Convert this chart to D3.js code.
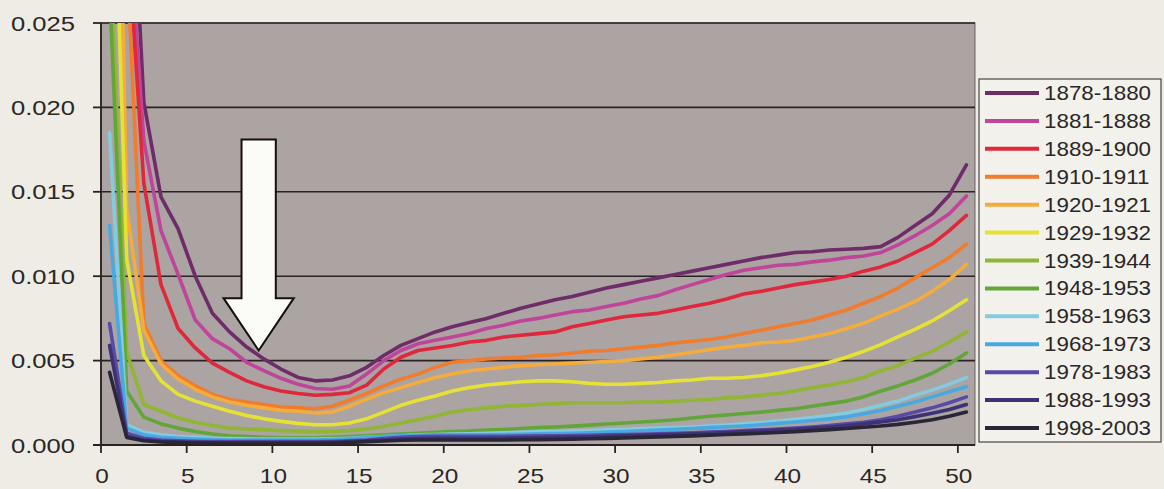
<!DOCTYPE html>
<html>
<head>
<meta charset="utf-8">
<script src="https://cdn.jsdelivr.net/npm/d3@7"></script>
<style>
  html, body { margin: 0; padding: 0; background: #efece5; }
  svg { display: block; }
  text { font-family: "Liberation Sans", Arial, sans-serif; fill: #2b2727; }
</style>
</head>
<body>
<svg id="chart" width="1164" height="489"></svg>
<script>
// Age in completed years (x categories)
const ages = d3.range(0, 51);

// Death probabilities by age, one array per observation period
const p1878_1880 = [0.150, 0.040, 0.0203, 0.0147, 0.0128, 0.0100, 0.0078, 0.0067, 0.0058, 0.0051, 0.0045, 0.0040, 0.0038, 0.00385, 0.0041, 0.0046, 0.0053, 0.0059, 0.0063, 0.0067, 0.0070, 0.00725, 0.0075, 0.0078, 0.0081, 0.00835, 0.0086, 0.0088, 0.00905, 0.0093, 0.0095, 0.0097, 0.0099, 0.0101, 0.0103, 0.0105, 0.0107, 0.0109, 0.0111, 0.01125, 0.0114, 0.01145, 0.01155, 0.0116, 0.01165, 0.01175, 0.0123, 0.0130, 0.0137, 0.0148, 0.0166];
const p1881_1888 = [0.120, 0.033, 0.0180, 0.0127, 0.0101, 0.0074, 0.0063, 0.0057, 0.0049, 0.0044, 0.00395, 0.0036, 0.00335, 0.0033, 0.0035, 0.0042, 0.0050, 0.0056, 0.0060, 0.0062, 0.0064, 0.0066, 0.0069, 0.0071, 0.00735, 0.0075, 0.0077, 0.0079, 0.0080, 0.0082, 0.0084, 0.00865, 0.00885, 0.0092, 0.0095, 0.0098, 0.0101, 0.01035, 0.0105, 0.01065, 0.0107, 0.01085, 0.01095, 0.0111, 0.0112, 0.0114, 0.01185, 0.0124, 0.0130, 0.0137, 0.01475];
const p1889_1900 = [0.100, 0.031, 0.0155, 0.0095, 0.0069, 0.00575, 0.00485, 0.0043, 0.0038, 0.00345, 0.0032, 0.00305, 0.00295, 0.0030, 0.0031, 0.00355, 0.0045, 0.0052, 0.0056, 0.00575, 0.0059, 0.0061, 0.0062, 0.0064, 0.0065, 0.0066, 0.0067, 0.0070, 0.0072, 0.0074, 0.0076, 0.0077, 0.0078, 0.0080, 0.0082, 0.0084, 0.00865, 0.00895, 0.0091, 0.0093, 0.0095, 0.00965, 0.0098, 0.0100, 0.0103, 0.01055, 0.0109, 0.0114, 0.0119, 0.0127, 0.0136];
const p1910_1911 = [0.080, 0.029, 0.0072, 0.0050, 0.0041, 0.0035, 0.0030, 0.0027, 0.00255, 0.0024, 0.00225, 0.0022, 0.00215, 0.0023, 0.00265, 0.00305, 0.0035, 0.0039, 0.0042, 0.0046, 0.0049, 0.0050, 0.0051, 0.00515, 0.0052, 0.0053, 0.00535, 0.00545, 0.00555, 0.0056, 0.0057, 0.0058, 0.0059, 0.00605, 0.00615, 0.00625, 0.0064, 0.0066, 0.0068, 0.0070, 0.0072, 0.0074, 0.0077, 0.0080, 0.0084, 0.0088, 0.0093, 0.0099, 0.0105, 0.0111, 0.0119];
const p1920_1921 = [0.064, 0.014, 0.0068, 0.0048, 0.0039, 0.0033, 0.00285, 0.00255, 0.00235, 0.0022, 0.00205, 0.0020, 0.0019, 0.00195, 0.0023, 0.0027, 0.0031, 0.0034, 0.0037, 0.0040, 0.0042, 0.0044, 0.0045, 0.0046, 0.0047, 0.00475, 0.0048, 0.00485, 0.0049, 0.00495, 0.0050, 0.0051, 0.0052, 0.00535, 0.0055, 0.00565, 0.0058, 0.0059, 0.00605, 0.0061, 0.0062, 0.0064, 0.0066, 0.0069, 0.0072, 0.00765, 0.00805, 0.0085, 0.0091, 0.0098, 0.0107];
const p1929_1932 = [0.043, 0.011, 0.0053, 0.0038, 0.0030, 0.0026, 0.0023, 0.0020, 0.00175, 0.00155, 0.0014, 0.00128, 0.0012, 0.0012, 0.0013, 0.00155, 0.00195, 0.00235, 0.00265, 0.0029, 0.0032, 0.0034, 0.00355, 0.00365, 0.00375, 0.0038, 0.0038, 0.00375, 0.00365, 0.0036, 0.0036, 0.00365, 0.0037, 0.0038, 0.00385, 0.00395, 0.00395, 0.0040, 0.0041, 0.00425, 0.00445, 0.00465, 0.0049, 0.0052, 0.00555, 0.00595, 0.0064, 0.00685, 0.00735, 0.00795, 0.0086];
const p1939_1944 = [0.030, 0.0055, 0.0024, 0.0020, 0.0016, 0.00135, 0.00115, 0.0010, 0.00095, 0.0009, 0.00085, 0.00082, 0.0008, 0.0008, 0.00085, 0.00095, 0.0011, 0.0013, 0.0015, 0.0017, 0.00195, 0.0021, 0.0022, 0.0023, 0.00235, 0.0024, 0.00245, 0.0025, 0.0025, 0.0025, 0.0025, 0.00255, 0.00255, 0.0026, 0.00265, 0.0027, 0.0028, 0.00285, 0.00295, 0.00305, 0.0032, 0.0034, 0.00355, 0.00375, 0.0040, 0.0044, 0.0047, 0.00515, 0.00555, 0.0061, 0.0067];
const p1948_1953 = [0.027, 0.0032, 0.00165, 0.00125, 0.0010, 0.0008, 0.00065, 0.00055, 0.0005, 0.00045, 0.00042, 0.00042, 0.00042, 0.00045, 0.0005, 0.00055, 0.0006, 0.00065, 0.0007, 0.00075, 0.0008, 0.00082, 0.00088, 0.00092, 0.00098, 0.00104, 0.00107, 0.00112, 0.00118, 0.00124, 0.0013, 0.00136, 0.00142, 0.0015, 0.0016, 0.0017, 0.00178, 0.00187, 0.00195, 0.00205, 0.00215, 0.0023, 0.00245, 0.0026, 0.00285, 0.0032, 0.0035, 0.00385, 0.00425, 0.0048, 0.00545];
const p1958_1963 = [0.0185, 0.0012, 0.00075, 0.0006, 0.0005, 0.00045, 0.0004, 0.00038, 0.00036, 0.00035, 0.00035, 0.00035, 0.00035, 0.00037, 0.0004, 0.00045, 0.0005, 0.00055, 0.0006, 0.00062, 0.00065, 0.00067, 0.0007, 0.00072, 0.00075, 0.00078, 0.0008, 0.00083, 0.00086, 0.0009, 0.00093, 0.00097, 0.0010, 0.00103, 0.00107, 0.00112, 0.00118, 0.00125, 0.00133, 0.00142, 0.00152, 0.00162, 0.00175, 0.0019, 0.0021, 0.00235, 0.0026, 0.00295, 0.00325, 0.0036, 0.0040];
const p1968_1973 = [0.0130, 0.0010, 0.0006, 0.00045, 0.0004, 0.00035, 0.00032, 0.0003, 0.0003, 0.0003, 0.0003, 0.0003, 0.0003, 0.00032, 0.00036, 0.00042, 0.0005, 0.00055, 0.00058, 0.0006, 0.0006, 0.0006, 0.0006, 0.00062, 0.00064, 0.00066, 0.00068, 0.0007, 0.00073, 0.00076, 0.0008, 0.00084, 0.00088, 0.00093, 0.00098, 0.00103, 0.00108, 0.00113, 0.0012, 0.00128, 0.00136, 0.00145, 0.00155, 0.00167, 0.00185, 0.00205, 0.0023, 0.00255, 0.00285, 0.00315, 0.00345];
const p1978_1983 = [0.0072, 0.0007, 0.0004, 0.0003, 0.00025, 0.00022, 0.0002, 0.0002, 0.0002, 0.0002, 0.0002, 0.0002, 0.0002, 0.00022, 0.00025, 0.0003, 0.00038, 0.00045, 0.0005, 0.00052, 0.00052, 0.00052, 0.00052, 0.00052, 0.00053, 0.00054, 0.00055, 0.00056, 0.00058, 0.0006, 0.00062, 0.00064, 0.00066, 0.0007, 0.00073, 0.00077, 0.0008, 0.00085, 0.0009, 0.00095, 0.0010, 0.00107, 0.00115, 0.00125, 0.00135, 0.0015, 0.0017, 0.00195, 0.0022, 0.0025, 0.00285];
const p1988_1993 = [0.0059, 0.0005, 0.0003, 0.00022, 0.00018, 0.00016, 0.00015, 0.00015, 0.00014, 0.00014, 0.00014, 0.00014, 0.00014, 0.00016, 0.0002, 0.00025, 0.0003, 0.00035, 0.00038, 0.0004, 0.0004, 0.0004, 0.0004, 0.0004, 0.00042, 0.00043, 0.00045, 0.00047, 0.00049, 0.00051, 0.00054, 0.00057, 0.0006, 0.00063, 0.00066, 0.0007, 0.00074, 0.00078, 0.00083, 0.00088, 0.00093, 0.0010, 0.00107, 0.00115, 0.00125, 0.00137, 0.0015, 0.00168, 0.00188, 0.0021, 0.0024];
const p1998_2003 = [0.0043, 0.00045, 0.00025, 0.00018, 0.00014, 0.00012, 0.00011, 0.0001, 0.0001, 0.0001, 0.0001, 0.0001, 0.0001, 0.00012, 0.00015, 0.0002, 0.00024, 0.00028, 0.0003, 0.0003, 0.0003, 0.0003, 0.0003, 0.0003, 0.00031, 0.00032, 0.00033, 0.00035, 0.00037, 0.00039, 0.00042, 0.00045, 0.00048, 0.00051, 0.00054, 0.00058, 0.00062, 0.00066, 0.0007, 0.00074, 0.00079, 0.00085, 0.00091, 0.00098, 0.00105, 0.00113, 0.00122, 0.00135, 0.0015, 0.0017, 0.00195];

// Period labels (legend order = drawing order) and their line colours
const periods = ["1878-1880", "1881-1888", "1889-1900", "1910-1911", "1920-1921", "1929-1932",
                 "1939-1944", "1948-1953", "1958-1963", "1968-1973", "1978-1983", "1988-1993", "1998-2003"];
const seriesValues = [p1878_1880, p1881_1888, p1889_1900, p1910_1911, p1920_1921, p1929_1932,
                      p1939_1944, p1948_1953, p1958_1963, p1968_1973, p1978_1983, p1988_1993, p1998_2003];
const colors = ["#6e2c68", "#c0449a", "#e0283c", "#f07c2c", "#f4ac3c", "#e6e234",
                "#90b634", "#62a63a", "#86cade", "#4aa8e0", "#5a4aa8", "#3e3274", "#2a2638"];

// Axis ticks
const yTicks = [0, 0.005, 0.010, 0.015, 0.020, 0.025];
const xTicks = [0, 5, 10, 15, 20, 25, 30, 35, 40, 45, 50];

const svg = d3.select("#chart");
const plotLeft = 101, plotRight = 975, plotTop = 23, plotBottom = 445;

const x = d3.scaleLinear().domain([0, 51]).range([plotLeft, plotRight]);
const y = d3.scaleLinear().domain([0, 0.025]).range([plotBottom, plotTop]);

// Plot background
svg.append("rect")
  .attr("x", plotLeft).attr("y", plotTop)
  .attr("width", plotRight - plotLeft).attr("height", plotBottom - plotTop)
  .attr("fill", "#aca3a3")
  .attr("stroke", "#6d6565").attr("stroke-width", 1);

// Horizontal gridlines
svg.append("g")
  .selectAll("line")
  .data(yTicks.filter(t => t > 0))
  .join("line")
  .attr("x1", plotLeft).attr("x2", plotRight)
  .attr("y1", d => y(d)).attr("y2", d => y(d))
  .attr("stroke", "#2a2222").attr("stroke-width", 1.6);

// Clip the curves to the plotting area
svg.append("clipPath").attr("id", "plotClip")
  .append("rect")
  .attr("x", plotLeft).attr("y", plotTop)
  .attr("width", plotRight - plotLeft).attr("height", plotBottom - plotTop);

const line = d3.line()
  .x(d => x(d.age + 0.5))
  .y(d => y(d.q));

const seriesData = periods.map((name, i) => ({
  name,
  color: colors[i],
  points: ages.map((a, j) => ({ age: a, q: seriesValues[i][j] }))
}));

svg.append("g")
  .attr("clip-path", "url(#plotClip)")
  .selectAll("path")
  .data(seriesData)
  .join("path")
  .attr("d", d => line(d.points))
  .attr("fill", "none")
  .attr("stroke", d => d.color)
  .attr("stroke-width", 3.6)
  .attr("stroke-linejoin", "round")
  .attr("stroke-linecap", "round");

// Axes
const axisColor = "#2a2222";
svg.append("line")
  .attr("x1", plotLeft).attr("x2", plotLeft).attr("y1", plotTop).attr("y2", plotBottom)
  .attr("stroke", axisColor).attr("stroke-width", 1.8);
svg.append("line")
  .attr("x1", plotLeft - 8).attr("x2", plotRight).attr("y1", plotBottom).attr("y2", plotBottom)
  .attr("stroke", axisColor).attr("stroke-width", 1.8);

// Y ticks and labels
const yAxis = svg.append("g");
yAxis.selectAll("line")
  .data(yTicks)
  .join("line")
  .attr("x1", plotLeft - 8).attr("x2", plotLeft)
  .attr("y1", d => y(d)).attr("y2", d => y(d))
  .attr("stroke", axisColor).attr("stroke-width", 1.8);
yAxis.selectAll("text")
  .data(yTicks)
  .join("text")
  .attr("transform", d => `translate(75,${y(d) + 7.5}) scale(1.22,1)`)
  .attr("text-anchor", "end")
  .attr("font-size", 21)
  .text(d => d3.format(".3f")(d));

// X ticks and labels
const xAxis = svg.append("g");
xAxis.selectAll("line")
  .data(xTicks)
  .join("line")
  .attr("x1", d => x(d)).attr("x2", d => x(d))
  .attr("y1", plotBottom).attr("y2", plotBottom + 8)
  .attr("stroke", axisColor).attr("stroke-width", 1.8);
xAxis.selectAll("text")
  .data(xTicks)
  .join("text")
  .attr("transform", d => `translate(${x(d) + 1},483) scale(1.16,1)`)
  .attr("text-anchor", "middle")
  .attr("font-size", 21)
  .text(d => d);

// Downward arrow marking the young-adult mortality hump
const arrow = { age: 9.2, shaftHalf: 1.0, headHalf: 2.05, top: 0.0181, neck: 0.0087, tip: 0.0056 };
const arrowPath = d3.path();
arrowPath.moveTo(x(arrow.age - arrow.shaftHalf), y(arrow.top));
arrowPath.lineTo(x(arrow.age + arrow.shaftHalf), y(arrow.top));
arrowPath.lineTo(x(arrow.age + arrow.shaftHalf), y(arrow.neck));
arrowPath.lineTo(x(arrow.age + arrow.headHalf), y(arrow.neck));
arrowPath.lineTo(x(arrow.age), y(arrow.tip));
arrowPath.lineTo(x(arrow.age - arrow.headHalf), y(arrow.neck));
arrowPath.lineTo(x(arrow.age - arrow.shaftHalf), y(arrow.neck));
arrowPath.closePath();
svg.append("path")
  .attr("d", arrowPath.toString())
  .attr("fill", "#fbfbf8")
  .attr("stroke", "#151010")
  .attr("stroke-width", 2)
  .attr("stroke-linejoin", "miter");

// Legend
const legend = svg.append("g");
legend.append("rect")
  .attr("x", 979).attr("y", 79)
  .attr("width", 182).attr("height", 363)
  .attr("fill", "#f3f1ec")
  .attr("stroke", "#4a4444").attr("stroke-width", 1.2);

const legendRow = d3.scalePoint().domain(periods).range([93, 428]);
const items = legend.selectAll("g.item")
  .data(seriesData)
  .join("g")
  .attr("class", "item")
  .attr("transform", d => `translate(0,${legendRow(d.name)})`);
items.append("line")
  .attr("x1", 985).attr("x2", 1039)
  .attr("y1", 0).attr("y2", 0)
  .attr("stroke", d => d.color)
  .attr("stroke-width", 4);
items.append("text")
  .attr("transform", "translate(1044,7) scale(1.12,1)")
  .attr("font-size", 20)
  .text(d => d.name);
</script>
</body>
</html>
